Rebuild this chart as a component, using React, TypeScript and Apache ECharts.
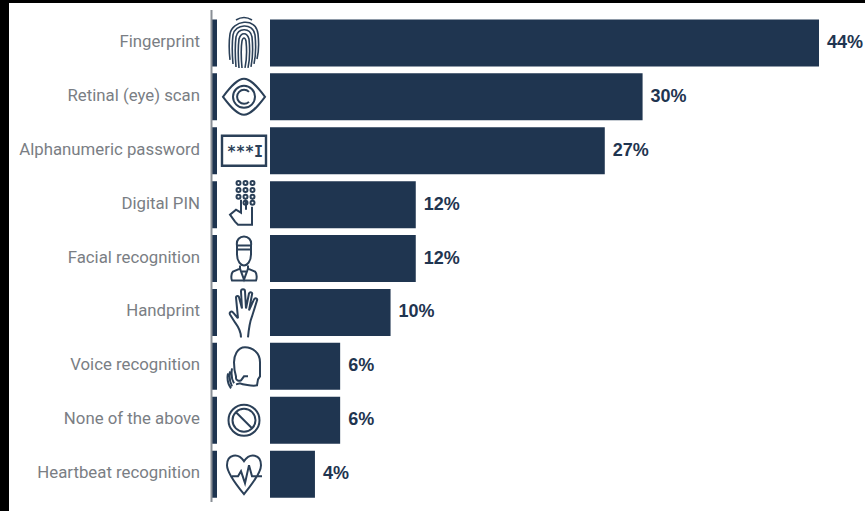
import React, { useEffect, useRef } from "react";
import * as echarts from "echarts";

// Survey shares per authentication method
const categories = [
  "Fingerprint",
  "Retinal (eye) scan",
  "Alphanumeric password",
  "Digital PIN",
  "Facial recognition",
  "Handprint",
  "Voice recognition",
  "None of the above",
  "Heartbeat recognition",
];
const shares = [44, 30, 27, 12, 12, 10, 6, 6, 4];
// Short stub left of the zero line; the icon column covers all but its left end
const stubs = [-4.17, -4.17, -4.17, -4.17, -4.17, -4.17, -4.17, -4.17, -4.17];

const NAVY = "#1f3550";
const ICON = "#2b4058";
const W = 865;
const H = 511;
const GRID_LEFT = 212;
const GRID_TOP = 16;
const ROW = 53.9;
const AXIS_MIN = -4.17;
const AXIS_MAX = 47.65;

const dot = (x: number, y: number) => `M${x - 2} ${y}a2 2 0 1 1 4 0a2 2 0 1 1-4 0Z`;

// Icon outlines, centred on the origin of their own row
const iconPaths: Record<string, string> = {
  fingerprint:
    "M-14 17C-15 8-15-2-14-9C-12-22 12-27 14-9C15 0 15 8 13 16" +
    "M-11 21C-12 10-12 0-11-8C-9-19 9-21 11-8C12 2 12 12 10 21" +
    "M-8 24C-9 12-9 2-8-6C-6-15 6-16 8-6C9 4 9 14 7 24" +
    "M-5 25C-6 14-6 4-5-4C-3-11 3-11 5-4C6 6 6 16 4 25" +
    "M-2 25C-3 14-3 4-2-2C-1-6 1-6 2-2C3 8 3 16 1 25" +
    "M-8-23C-3-26 3-26 8-23",
  eye:
    "M-21 0C-12-12-6-18 0-18C6-18 12-12 21 0C12 12 6 18 0 18C-6 18-12 12-21 0Z" +
    "M-11 0A11 11 0 1 1 11 0A11 11 0 1 1-11 0Z" +
    "M5 -5A7 7 0 1 0 5 5",
  pin:
    dot(-5.5, -21.6) + dot(1.5, -21.6) + dot(8.5, -21.6) +
    dot(-5.5, -14.6) + dot(1.5, -14.6) + dot(8.5, -14.6) +
    dot(-5.5, -8) + dot(1.5, -8) + dot(8.5, -8) +
    dot(1.5, -2) + dot(8.5, -2) +
    "M-3-5L-3 8L-8 5L-14 10L-9 17L-6 20L8 20L8 2M2-4L2 5",
  face:
    "M-7-13L-7-4C-7 3-3 7 0 7C3 7 7 3 7-4L7-13" +
    "M-7-13C-8-19-4-22 0-22C4-22 8-19 7-13Z M-7-9L7-9" +
    "M-4 7L-4 10L-11 13C-13 15-13 20-12 22L12 22C13 20 13 15 11 13L4 10L4 7" +
    "M-4 10L0 21L4 10M-2 13L2 13",
  hand:
    "M-3 25C-3 18-6 14-9 10L-14 2C-15 0-13-2-11 0L-6 6" +
    "M-6 6L-8-15C-8-17-5-17-5-15L-2-4M-2-4L-3-21C-3-24 1-24 1-21L2-4" +
    "M2-4L5-19C6-21 9-20 8-18L5-2M5-2L10-13C11-15 14-14 13-12L8 4C6 9 5 14 4 25",
  voice:
    "M-8 18L-4 17C-2 18 8 20 13 19L14 13L16 10L16-4C16-14 8-19 1-19C-7-19-10-10-10-4C-10 2-9 7-8 10L-8 12C-8 14-5 15-3 14L0 10L4 10" +
    "M-12 2C-13 8-13 12-10 17M-14 5C-15 10-15 14-12 20M-16 7C-17 12-16 18-13 22",
  none:
    "M-15.5 0A15.5 15.5 0 1 1 15.5 0A15.5 15.5 0 1 1-15.5 0Z" +
    "M-11.5 0A11.5 11.5 0 1 1 11.5 0A11.5 11.5 0 1 1-11.5 0Z" +
    "M-8-8L8 8",
  heart:
    "M0-13C-6-22-17-20-17-9C-17-2-9 9 0 20C9 9 17-2 17-9C17-20 6-22 0-13Z" +
    "M-12 2L-6 2L-3-3L1 9L5-9L8 2L18 2",
};

const iconNames = ["fingerprint", "eye", "", "pin", "face", "hand", "voice", "none", "heart"];

Object.keys(iconPaths).forEach((name) => {
  echarts.graphic.registerShape(
    "icon-" + name,
    echarts.graphic.extendPath(iconPaths[name], {}) as any
  );
});

const rowCentre = (i: number) => GRID_TOP + (i + 0.5) * ROW;

function buildGraphic() {
  const els: any[] = [
    // Dark edges along the top and left of the canvas
    { type: "rect", z: 20, shape: { x: 0, y: 0, width: W, height: 3 }, style: { fill: "#000" } },
    { type: "rect", z: 20, shape: { x: 0, y: 0, width: 9, height: H }, style: { fill: "#000" } },
    // Vertical baseline
    {
      type: "line",
      z: 12,
      shape: { x1: 211.5, y1: 10, x2: 211.5, y2: 502 },
      style: { stroke: "#8a8f96", lineWidth: 2 },
    },
    // Icon column sits over the bars
    { type: "rect", z: 10, shape: { x: 217, y: 0, width: 53, height: H }, style: { fill: "#fff" } },
  ];
  iconNames.forEach((name, i) => {
    if (!name) return;
    els.push({
      type: "icon-" + name,
      z: 11,
      x: 244,
      y: rowCentre(i),
      style: { fill: "none", stroke: ICON, lineWidth: name === "fingerprint" ? 1.6 : 2 },
    });
  });
  // Password field icon
  const pw = rowCentre(2);
  els.push({
    type: "rect",
    z: 11,
    shape: { x: 222, y: pw - 15, width: 44, height: 30 },
    style: { fill: "#fff", stroke: ICON, lineWidth: 2.4 },
  });
  els.push({
    type: "text",
    z: 12,
    x: 245,
    y: pw + 1,
    style: {
      text: "***I",
      fill: ICON,
      font: "bold 15px 'DejaVu Sans Mono'",
      align: "center",
      verticalAlign: "middle",
    },
  });
  return els;
}

export default function App() {
  const ref = useRef<HTMLDivElement>(null);

  useEffect(() => {
    document.body.style.margin = "0";
    const chart = echarts.init(ref.current!, undefined, { renderer: "svg" });
    chart.setOption({
      animation: false,
      backgroundColor: "#fff",
      grid: {
        left: GRID_LEFT,
        top: GRID_TOP,
        width: W - GRID_LEFT,
        height: ROW * categories.length,
        outerBoundsMode: "none",
      },
      xAxis: { type: "value", min: AXIS_MIN, max: AXIS_MAX, show: false },
      yAxis: {
        type: "category",
        inverse: true,
        data: categories,
        axisLine: { show: false },
        axisTick: { show: false },
        axisLabel: {
          margin: 12,
          formatter: "{name|{value}}",
          rich: {
            // Bottom padding lifts the text slightly above the row centre
            name: {
              color: "#7a7e84",
              fontFamily: "Roboto",
              fontSize: 16.8,
              padding: [0, 0, 4, 0],
            },
          },
        },
      },
      series: [
        {
          type: "bar",
          stack: "row",
          data: shares,
          barWidth: 47,
          itemStyle: { color: NAVY },
          label: {
            show: true,
            position: "right",
            distance: 8,
            offset: [0, -1],
            formatter: "{c}%",
            color: NAVY,
            fontFamily: "'Liberation Sans'",
            fontWeight: "bold",
            fontSize: 18,
          },
        },
        {
          type: "bar",
          stack: "row",
          data: stubs,
          barWidth: 47,
          itemStyle: { color: NAVY },
        },
      ],
      graphic: { elements: buildGraphic() },
    });
    return () => chart.dispose();
  }, []);

  return <div ref={ref} style={{ width: W, height: H }} />;
}
